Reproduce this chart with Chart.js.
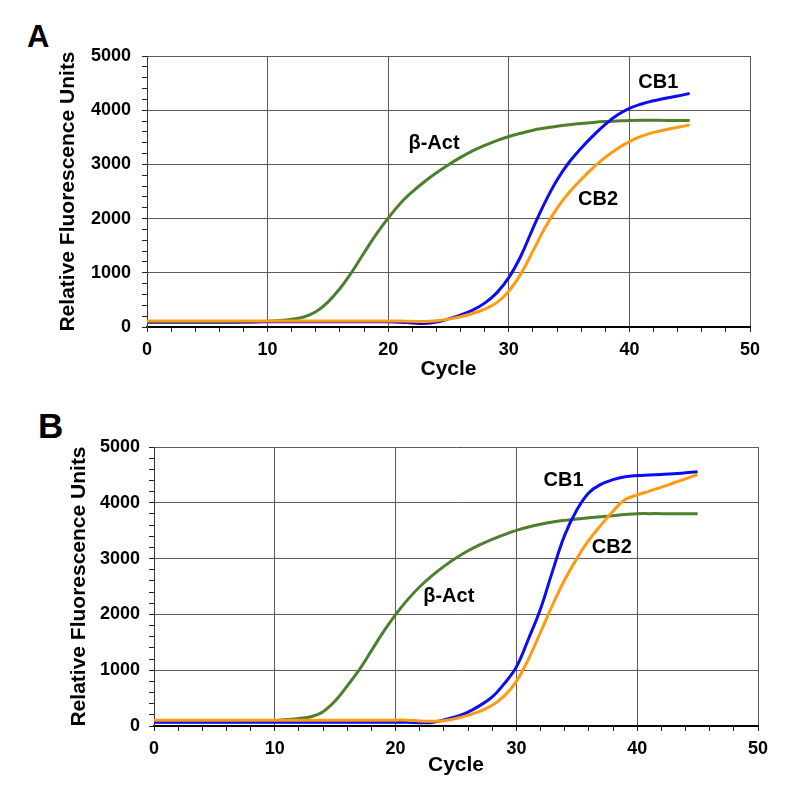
<!DOCTYPE html>
<html>
<head>
<meta charset="utf-8">
<script src="https://cdn.jsdelivr.net/npm/chart.js@4"></script>
<style>
  body { margin: 0; background: #fff; width: 787px; height: 788px; position: relative; overflow: hidden; }
  canvas { position: absolute; left: 0; }
  .panel { position: absolute; font-family: "Liberation Sans", Arial, sans-serif; font-weight: bold; line-height: 1; color: #000; }
</style>
</head>
<body>
<div class="panel" style="left:27px; top:21px; font-size:31px">A</div>
<div class="panel" style="left:38px; top:408px; font-size:35px">B</div>
<canvas id="chartA" width="787" height="385" style="top:0"></canvas>
<canvas id="chartB" width="787" height="398" style="top:390px"></canvas>
<script>
const cycles = [0,1,2,3,4,5,6,7,8,9,10,11,12,13,14,15,16,17,18,19,20,21,22,23,24,25,26,27,28,29,30,31,32,33,34,35,36,37,38,39,40,41,42,43,44,45]

// panel A
const actA = [85,85,84,83,82,82,82,83,86,92,105,120,145,185,280,460,710,1020,1370,1710,2010,2280,2495,2680,2845,2995,3130,3250,3350,3440,3515,3575,3630,3670,3705,3730,3755,3775,3790,3800,3810,3815,3815,3812,3810,3808]
const cb1A = [95,95,95,95,95,95,95,95,95,95,95,95,95,95,95,95,95,95,95,95,95,88,75,65,90,150,220,310,440,630,910,1310,1820,2300,2713,3040,3300,3530,3740,3910,4035,4115,4175,4220,4262,4310]
const cb2A = [110,110,110,110,110,110,110,110,110,110,110,110,110,110,110,110,110,110,110,110,110,110,105,102,115,145,190,250,330,450,660,980,1400,1830,2190,2480,2720,2940,3130,3290,3420,3520,3590,3640,3685,3726]

// panel B
const actB = [77,77,77,77,77,77,77,77,79,86,100,115,135,167,257,450,720,1010,1350,1690,1995,2265,2495,2690,2860,3010,3140,3250,3345,3430,3505,3565,3615,3655,3685,3710,3730,3750,3770,3790,3805,3806,3806,3806,3806,3806]
const cb1B = [65,65,65,65,65,65,65,65,65,65,65,65,65,65,65,65,65,65,65,65,65,65,60,62,110,165,250,370,520,760,1060,1560,2100,2780,3420,3870,4180,4330,4415,4468,4488,4498,4508,4520,4537,4555]
const cb2B = [105,105,105,105,105,105,105,105,105,105,105,105,105,105,105,105,105,105,105,105,105,105,90,85,95,135,190,265,370,540,800,1200,1680,2170,2620,3000,3330,3600,3850,4057,4140,4210,4280,4355,4430,4506]

// curve labels: [text, cycle, value]
const labelsA = [["β-Act", 23.8, 3394], ["CB1", 42.4, 4517], ["CB2", 37.4, 2344]]
const labelsB = [["β-Act", 24.4, 2316], ["CB1", 33.9, 4399], ["CB2", 37.9, 3196]]

const FONT = "'Liberation Sans', Arial, sans-serif"
const GREEN = "#4d7f2d"
const BLUE = "#0c0cf2"
const ORANGE = "#ff9a12"

const curveLabels = {
  id: "curveLabels",
  afterDatasetsDraw(chart, args, opts) {
    const { ctx, scales } = chart
    ctx.save()
    ctx.font = "bold 20px " + FONT
    ctx.fillStyle = "#000"
    ctx.textAlign = "center"
    ctx.textBaseline = "middle"
    opts.items.forEach(([text, cx, cy]) => {
      ctx.fillText(text, scales.x.getPixelForValue(cx), scales.y.getPixelForValue(cy))
    })
    ctx.restore()
  }
}

function pts(vals) {
  return cycles.map((c, i) => ({ x: c, y: vals[i] }))
}

function makeChart(id, act, cb1, cb2, labels, box) {
  const line = (label, vals, color, order) => ({
    label,
    data: pts(vals),
    borderColor: color,
    borderWidth: 3,
    pointRadius: 0,
    tension: 0.4,
    order
  })

  return new Chart(document.getElementById(id), {
    type: "line",
    data: {
      datasets: [
        line("β-Act", act, GREEN, 3),
        line("CB1", cb1, BLUE, 2),
        line("CB2", cb2, ORANGE, 1)
      ]
    },
    plugins: [curveLabels],
    options: {
      responsive: false,
      animation: false,
      layout: { padding: { left: 0, top: box.top, right: box.right, bottom: 0 } },
      plugins: {
        legend: { display: false },
        tooltip: { enabled: false },
        curveLabels: { items: labels }
      },
      scales: {
        x: {
          type: "linear",
          min: 0,
          max: 50,
          afterFit: s => { s.height = box.xHeight },
          ticks: {
            stepSize: 2,
            autoSkip: false,
            maxRotation: 0,
            padding: box.xTickPad,
            color: "#000",
            font: { family: FONT, size: 18, weight: "bold" },
            callback: v => (v % 10 === 0 ? v : "")
          },
          grid: {
            color: c => (c.tick && c.tick.value % 10 === 0 ? "#5a5a5a" : "transparent"),
            tickColor: "#222",
            tickLength: 5
          },
          border: { color: "#000", width: 2 },
          title: {
            display: true,
            text: "Cycle",
            color: "#000",
            font: { family: FONT, size: 21, weight: "bold" },
            padding: { top: 0, bottom: box.xTitlePad }
          }
        },
        y: {
          min: 0,
          max: 5000,
          afterFit: s => { s.width = box.left },
          ticks: {
            stepSize: 200,
            autoSkip: false,
            padding: box.yTickPad,
            color: "#000",
            font: { family: FONT, size: 18, weight: "bold" },
            callback: v => (v % 1000 === 0 ? v : "")
          },
          grid: {
            color: c => (c.tick && c.tick.value % 1000 === 0 ? "#5a5a5a" : "transparent"),
            tickColor: "#222",
            tickLength: 5
          },
          border: { color: "#333", width: 1 },
          title: {
            display: true,
            text: "Relative Fluorescence Units",
            color: "#000",
            font: { family: FONT, size: 21, weight: "bold" },
            padding: { top: box.yTitlePad, bottom: 0 }
          }
        }
      }
    }
  })
}

makeChart("chartA", actA, cb1A, cb2A, labelsA,
  { top: 56, right: 37, left: 147, xHeight: 58, xTickPad: 7, xTitlePad: 3, yTickPad: 11, yTitlePad: 56 })
makeChart("chartB", actB, cb1B, cb2B, labelsB,
  { top: 57, right: 29, left: 154, xHeight: 62, xTickPad: 7, xTitlePad: 10, yTickPad: 9, yTitlePad: 67 })
</script>
</body>
</html>
